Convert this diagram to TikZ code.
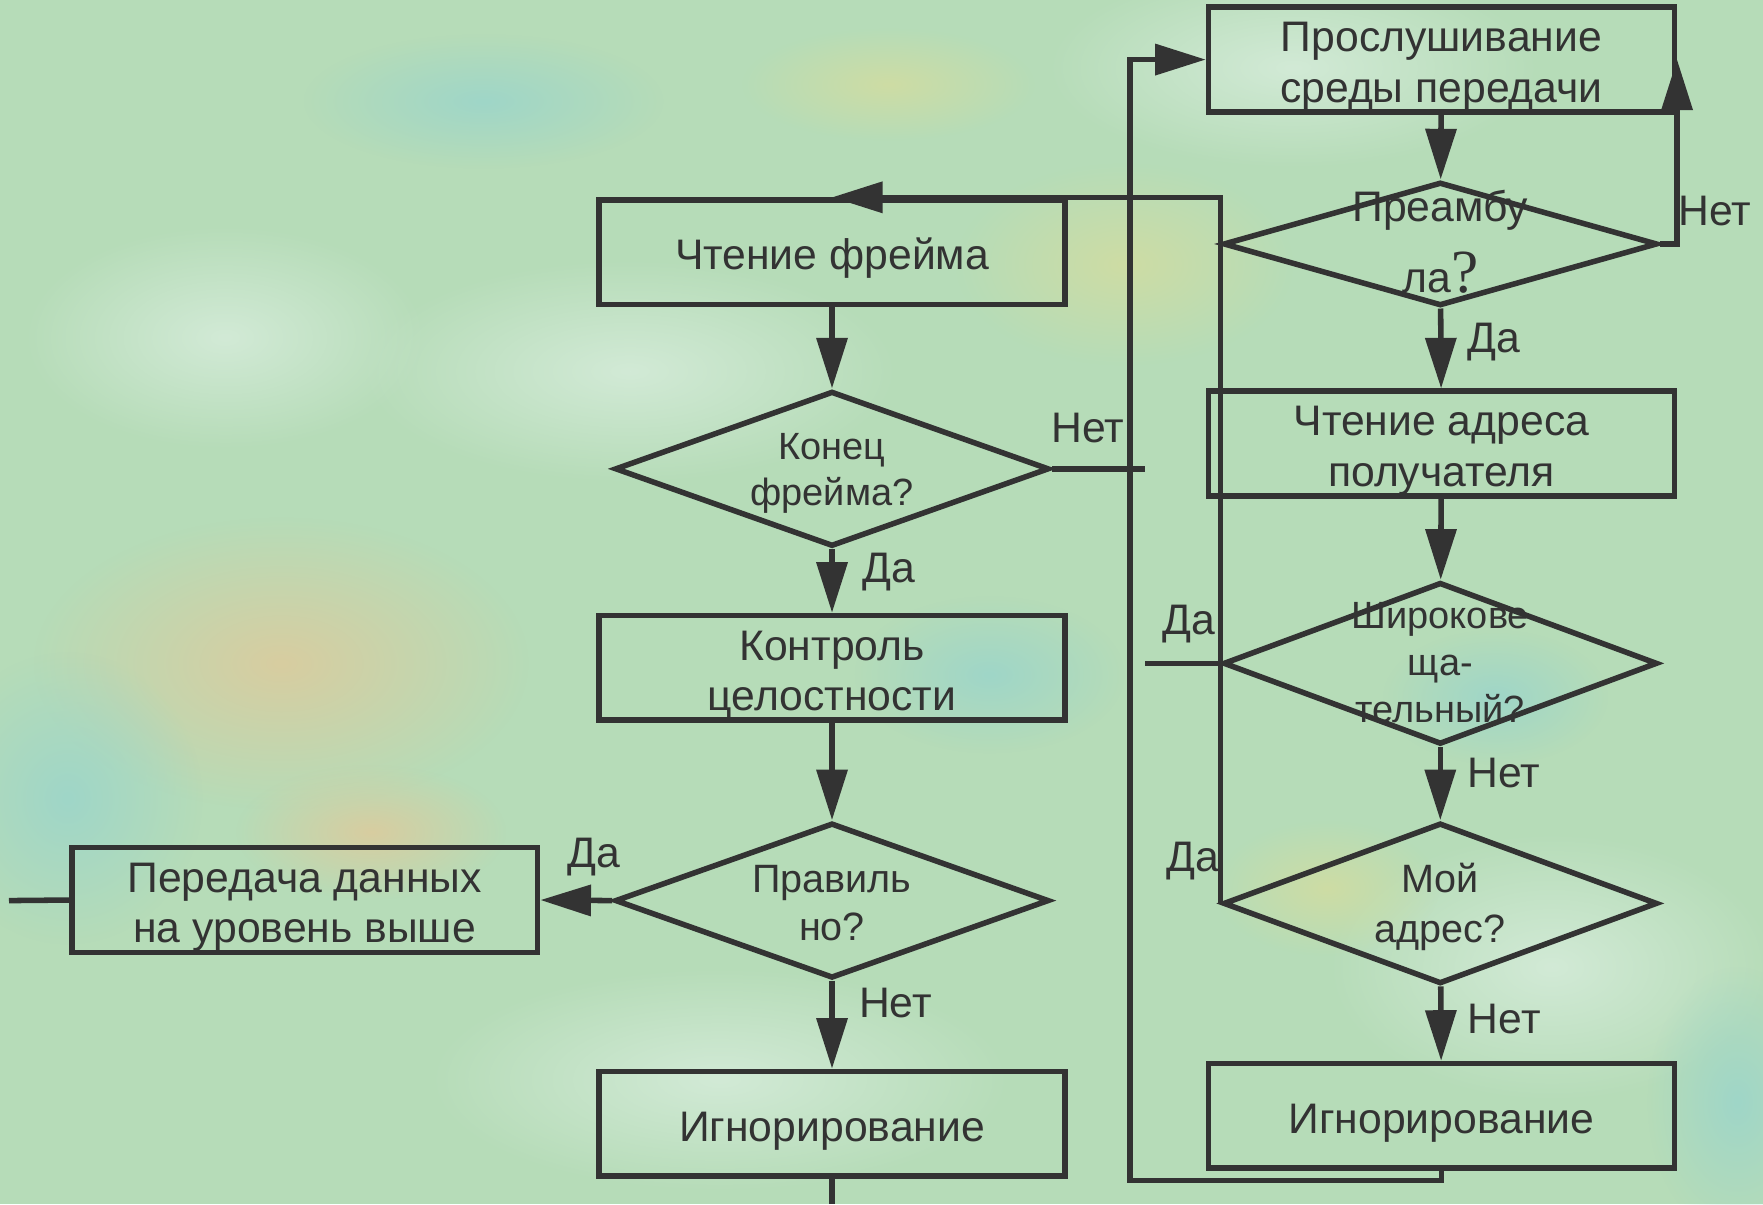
\documentclass[tikz,border=0pt]{standalone}
\usepackage{fontspec}
\setmainfont{Liberation Sans}
\newfontfamily\qmarkfont{Liberation Serif}
\usetikzlibrary{shapes.geometric,arrows.meta,fadings}
\definecolor{ink}{HTML}{333333}
\definecolor{paper}{HTML}{B6DCB8}
\definecolor{peach}{HTML}{D8CDA0}
\definecolor{straw}{HTML}{CEDDA4}
\definecolor{teal}{HTML}{9FD6C8}
\definecolor{pale}{HTML}{D2EAD6}
\tikzfading[name=softblob, inner color=transparent!0, outer color=transparent!100]
\begin{document}
\begin{tikzpicture}[x=0.01cm, y=-0.01cm, line width=1.4pt, color=ink,
    >={Triangle[length=0.45cm, width=0.27cm]}]

      \tikzset{block/.style={draw, rectangle, inner sep=0pt, minimum width=4.14cm, minimum height=0.93cm,
                 text height=11pt, align=center, font=\fontsize{10.8}{12.8}\selectfont},
               twoline/.style={text height=23.8pt},
               query/.style={draw, diamond, inner sep=0pt, minimum width=3.86cm, minimum height=1.38cm},
               qtext/.style={align=center, font=\fontsize{9.6}{11.6}\selectfont},
               tag/.style={font=\fontsize{10.8}{12}\selectfont, inner sep=1pt},
               blob/.style={path fading=softblob}}
%% Background
      	\useasboundingbox (0,0) rectangle (1568,1071);
      	\fill[paper] (0,0) rectangle (1568,1071);
      	\fill[pale, blob] (1150,60) ellipse (2.2cm and 0.9cm);
      	\fill[pale, blob] (560,330) ellipse (2.4cm and 1cm);
      	\fill[pale, blob] (1380,860) ellipse (2cm and 1.2cm);
      	\fill[pale, blob] (640,960) ellipse (2.6cm and 1cm);
      	\fill[pale, blob] (200,300) ellipse (1.8cm and 1cm);
      	\fill[peach, blob] (250,590) ellipse (2.2cm and 1.3cm);
      	\fill[peach, blob] (330,740) ellipse (1.2cm and 0.6cm);
      	\fill[straw, blob] (1000,235) ellipse (1.5cm and 0.9cm);
      	\fill[straw, blob] (790,75) ellipse (1.3cm and 0.5cm);
      	\fill[straw, blob] (1180,790) ellipse (1cm and 0.6cm);
      	\fill[teal, blob] (430,90) ellipse (1.6cm and 0.6cm);
      	\fill[teal, blob] (60,710) ellipse (1.2cm and 1.3cm);
      	\fill[teal, blob] (1545,980) ellipse (0.8cm and 1.2cm);
      	\fill[teal, blob] (880,600) ellipse (1.2cm and 0.7cm);
      	\fill[teal, blob] (1330,620) ellipse (1cm and 0.6cm);
%% Blocks
      	\node[block, twoline] (listen) at (1282,53) {Прослушивание\\среды передачи};
      	\node[block, twoline] (readaddr) at (1282,394.5) {Чтение адреса\\получателя};
      	\node[block] (ignoreB) at (1282,992.5) {Игнорирование};
      	\node[block] (readframe) at (740,224.5) {Чтение фрейма};
      	\node[block, twoline] (checksum) at (740,594) {Контроль\\целостности};
      	\node[block] (ignoreA) at (740,999.5) {Игнорирование};
      	\node[block, twoline] (pass) at (271,800.5) {Передача данных\\на уровень выше};
%% Decisions
      	\node[query, minimum height=1.10cm, label={[align=center, font=\fontsize{10.8}{18}\selectfont, yshift=0.02cm]center:Преамбу\\ла{\qmarkfont\fontsize{15.5}{15.5}\selectfont ?}}] (preamble) at (1281,217) {};
      	\node[query, minimum height=1.44cm, label={[qtext, font=\fontsize{9.6}{11.9}\selectfont, yshift=0.01cm]center:Широкове\\ща-\\тельный?}] (bcast) at (1281,590) {};
      	\node[query, minimum height=1.43cm, label={[qtext, font=\fontsize{10}{12.8}\selectfont, yshift=-0.03cm]center:Мой\\адрес?}] (myaddr) at (1281,803.5) {};
      	\node[query, label={[qtext, yshift=-0.04cm]center:Конец\\фрейма?}] (endframe) at (740,417) {};
      	\node[query, label={[qtext, font=\fontsize{10}{12.2}\selectfont, yshift=-0.025cm]center:Правиль\\но?}] (valid) at (740,801) {};
%% Loose ends
      	\coordinate (noend) at (1018,417);
      	\coordinate (bcastend) at (1018,590);
      	\coordinate (loopcorner) at (1005,1050);
      	\coordinate (passend) at (8,801);
      	\coordinate (ignoreend) at (740,1071);
%Edges
		\path [->] (listen) edge (preamble);
		\draw [->] (preamble.east) -| node[tag, pos=0.59, right, xshift=-0.05cm] {Нет} (listen.east);
		\path [->] (preamble) edge node[tag, pos=0.42, right, xshift=0.18cm] {Да} (readaddr);
		\path [->] (readaddr) edge (bcast);
		\path [->] (bcast) edge node[tag, pos=0.36, right, xshift=0.18cm] {Нет} (myaddr);
		\path [->] (myaddr) edge node[tag, pos=0.44, right, xshift=0.18cm] {Нет} (ignoreB);
		\draw [->] (ignoreB.south) |- (loopcorner) |- (listen.west);
		\draw (bcast.west) -- node[tag, pos=0.42, above, yshift=0.12cm] {Да} (bcastend);
		\draw [->] (myaddr.west) |- node[tag, pos=0.03, left, xshift=0.05cm] {Да} (readframe.north);
		\path [->] (readframe) edge (endframe);
		\draw (endframe.east) -- node[tag, pos=0.39, above, yshift=0.17cm] {Нет} (noend);
		\path [->] (endframe) edge node[tag, pos=0.36, right, xshift=0.21cm] {Да} (checksum);
		\path [->] (checksum) edge (valid);
		\path [->] (valid.west) edge node[tag, pos=0.26, above, yshift=0.16cm] {Да} (pass.east);
		\path [->] (valid) edge node[tag, pos=0.25, right, xshift=0.18cm] {Нет} (ignoreA);
		\draw (pass.west) -- (passend);
		\draw (ignoreA.south) -- (ignoreend);

	\end{tikzpicture}
\end{document}
